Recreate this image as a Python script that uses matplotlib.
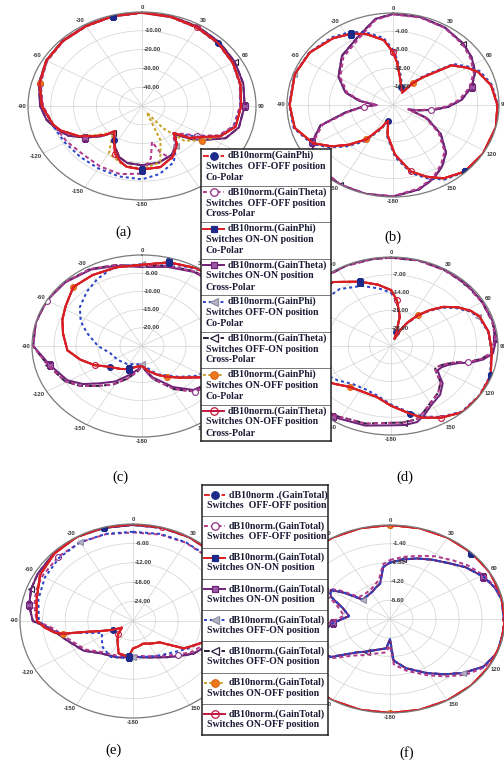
import numpy as np
import matplotlib
matplotlib.use('Agg')
import matplotlib.pyplot as plt

W, H = 504, 762

ANGLE_TICKS = [0, 30, 60, 90, 120, 150, 180, 210, 240, 270, 300, 330]
ANGLE_LABELS = ['0', '30', '60', '90', '120', '150', '-180', '-150', '-120', '-90', '-60', '-30']

# ---------------- panel (a) : GainPhi / GainTheta, -50..0 dB ----------------
A_CO_T = [0, 15, 30, 45, 60, 75, 90, 105, 115, 123, 129, 136, 143, 153, 166, 180, 192, 198, 205, 214, 222, 226, 232, 240, 250, 256, 270, 285, 300, 315, 330, 345, 360]
A_CO_R = [-0.3, -0.9, -1.7, -2.7, -4.0, -5.3, -6.5, -7.5, -12, -19.6, -23, -30, -24.5, -20, -16.5, -16.2, -17, -19, -22, -28, -32, -28, -24, -18, -12, -9.7, -6.1, -3.5, -1.6, -1.0, -0.9, -0.5, -0.3]
A_CR_T = [0, 15, 30, 45, 60, 75, 90, 105, 115, 123, 129, 136, 143, 153, 166, 180, 192, 200, 208, 216, 222, 228, 236, 244, 252, 260, 270, 285, 300, 315, 330, 345, 360]
A_CR_R = [-0.2, -0.6, -1.2, -2.0, -3.0, -4.0, -5.0, -6.0, -9.5, -17, -22, -29, -25, -21, -19, -18.5, -19, -21, -25, -29, -31, -26, -20, -14, -10.5, -7.5, -5.3, -3.2, -1.5, -0.8, -0.7, -0.4, -0.2]
A_DOT_T = [0, 15, 30, 45, 60, 75, 90, 105, 115, 123, 130, 137, 145, 155, 168, 180, 195, 210, 225, 240, 255, 270, 285, 300, 315, 330, 345, 360]
A_DOT_R = [-0.4, -1.0, -1.8, -2.8, -4.0, -5.5, -6.8, -8, -12.5, -20, -26, -29, -24, -17, -13, -11, -11.2, -11.7, -11.7, -11, -9.5, -6.3, -3.7, -1.8, -1.1, -1.0, -0.6, -0.4]
A_SPK_T = [0, 15, 30, 45, 60, 75, 90, 105, 115, 123, 130, 137, 145, 155, 162, 167, 172, 180, 195, 210, 225, 240, 255, 270, 285, 300, 315, 330, 345, 360]
A_SPK_R = [-0.5, -1.1, -2.0, -3.0, -4.2, -5.6, -7, -8.5, -13, -21, -27, -30, -25, -19, -24, -30.5, -22, -14, -12.5, -13, -13.5, -12, -10, -6.6, -3.9, -2.0, -1.2, -1.1, -0.7, -0.5]
A_OL_T = [0, 15, 30, 45, 60, 75, 90, 105, 115, 125, 135, 142, 149, 156, 165, 180, 195, 210, 222, 232, 240, 250, 256, 270, 285, 300, 315, 330, 345, 360]
A_OL_R = [-0.3, -0.9, -1.7, -2.7, -4.0, -5.3, -6.5, -7.5, -12, -18, -24, -35, -46, -30, -19, -16.5, -17.5, -21, -31, -25, -18, -12, -9.7, -6.1, -3.5, -1.6, -1.0, -0.9, -0.5, -0.3]

# ---------------- panel (b) : -20..0 dB ----------------
B_CO_T = [0, 5, 12, 22, 28, 33, 38, 43, 52, 60, 66, 77, 90, 104, 122, 137, 149, 158, 167, 178, 189, 195, 200, 203, 214, 224, 232, 241, 255, 270, 290, 306, 322, 333, 342, 353, 360]
B_CO_R = [-8.5, -10.8, -13.8, -15.8, -16.5, -16.8, -14, -11.8, -6, -3.8, -2.4, -1.0, -0.3, 0, 0, -0.2, -1.4, -3.2, -5.2, -9.2, -13.4, -16.5, -15.8, -14.8, -11, -8, -5.4, -2.8, -0.8, -0.5, -0.3, -0.6, -1.6, -2.6, -3.8, -5.8, -8.5]
B_BL_R = [-8.0, -10.2, -13.2, -15.4, -16.2, -16.6, -13.6, -11.2, -5.5, -3.4, -2.0, -0.8, -0.2, 0, 0, -0.1, -1.1, -2.8, -4.8, -8.7, -13.0, -16.4, -15.5, -14.3, -10.5, -7.5, -5.0, -2.5, -0.6, -0.4, -0.2, -0.5, -1.3, -2.2, -3.4, -5.3, -8.0]
B_CR_T = [0, 15, 30, 45, 55, 65, 75, 85, 92, 98, 104, 108, 114, 125, 136, 145, 154, 165, 180, 195, 210, 222, 232, 242, 252, 260, 266, 270, 278, 287, 301, 318, 337, 350, 360]
B_CR_R = [-0.3, -0.3, -0.6, -1.4, -2.2, -3.2, -5.0, -7.5, -10, -12.8, -15.5, -17, -13.4, -9.5, -6, -4.2, -2.6, -1.2, -0.2, 0, -0.1, -0.6, -1.4, -3, -6, -11.5, -14.5, -17, -14, -11, -8.4, -6, -4, -1.2, -0.3]
B_CR2_R = [-0.2, -0.2, -0.5, -1.2, -1.9, -2.9, -4.6, -7.0, -9.5, -12.3, -15.2, -16.8, -13.0, -9.0, -5.6, -3.8, -2.3, -1.0, -0.1, 0, 0, -0.5, -1.2, -2.7, -5.6, -11.0, -14.2, -16.8, -13.6, -10.6, -8.0, -5.6, -3.6, -1.0, -0.2]

# ---------------- panel (c) : -25..0 dB ----------------
C_CO_T = [0, 15, 30, 45, 60, 75, 90, 105, 123, 135, 146, 156, 168, 180, 192, 205, 218, 232, 244, 255, 266, 281, 292, 302, 316, 330, 345, 360]
C_CO_R = [-2.7, -1.2, -0.3, 0, 0, -0.5, -2, -5, -9.2, -12.7, -14.8, -16.3, -18, -19.5, -19.2, -18, -17, -15.7, -13, -10.5, -8, -6.7, -5.5, -4.5, -2.5, -2.5, -2.6, -2.7]
C_CR_T = [0, 15, 30, 45, 60, 75, 90, 105, 120, 136, 148, 164, 172, 180, 188, 200, 212, 223, 232, 241, 256, 270, 285, 300, 315, 331, 345, 360]
C_CR_R = [-3.3, -2.5, -1.5, -1.0, -0.8, -1.5, -3, -4.5, -6, -8.2, -11.7, -16, -18, -19.8, -18.5, -16.5, -13.5, -11, -8, -5.6, -3.4, -0.3, 0, 0, -0.3, -1, -2.2, -3.3]
C_CR2_R = [-3.0, -2.2, -1.3, -0.8, -0.6, -1.2, -2.6, -4.0, -5.5, -7.6, -11.0, -15.5, -17.8, -19.6, -18.0, -15.5, -12.5, -10, -7.2, -5.0, -3.0, -0.2, 0, 0, -0.2, -0.8, -2.0, -3.0]
C_BL_T = [0, 15, 30, 45, 60, 75, 90, 105, 123, 135, 156, 170, 180, 195, 215, 235, 255, 270, 286, 296, 307, 320, 331, 341, 350, 360]
C_BL_R = [-2.5, -1.5, -0.5, -0.3, -0.5, -1.2, -3, -6, -10, -13, -16.5, -19, -20, -19.8, -19, -18.3, -17.5, -15, -12, -9.5, -7.3, -5.5, -4, -2.8, -2.6, -2.5]

# ---------------- panel (d) : -35..0 dB ----------------
D_CO_T = [0, 6, 14, 18, 22, 26, 30, 36, 42, 48, 55, 62, 68, 80, 93, 110, 124, 138, 150, 160, 167, 180, 193, 205, 220, 232, 245, 260, 275, 290, 305, 323, 338, 350, 360]
D_CO_R = [-13, -16.8, -23, -29.4, -32, -28, -24.5, -20, -16, -12, -8.4, -5.5, -3.8, -2.6, -2, -0.3, 0, 0, -2.4, -5, -7.7, -11.5, -14.4, -14.8, -14, -11, -8, -5.5, -4, -3, -2.5, -3.5, -7.7, -10.5, -13]
D_BL_R = [-14, -17.5, -23.5, -29.6, -32, -28.5, -25, -20.5, -16.5, -12.5, -9, -6, -4.2, -2.8, -2.2, -0.5, -0.2, -0.3, -2.8, -5.5, -8.2, -12, -15, -16, -15.5, -13, -10, -7.5, -6, -5.5, -6, -7, -9.5, -12, -14]
D_CR_T = [0, 15, 30, 45, 60, 74, 85, 95, 100, 104, 107, 112, 117, 122, 127, 131, 140, 150, 158, 164, 172, 180, 195, 214, 230, 245, 260, 275, 290, 305, 320, 335, 350, 360]
D_CR_R = [0, 0, -0.2, -0.3, -0.4, -0.3, -0.4, -1.5, -4.4, -8, -12, -15, -16.5, -17, -15, -12.6, -10, -8.4, -5.8, -3.9, -3.6, -3.8, -2.6, -1.3, -0.8, -0.5, -0.3, 0, 0, 0, 0, 0, 0, 0]
D_CR2_R = [-0.3, -0.2, -0.4, -0.5, -0.6, -0.5, -0.8, -2.2, -5.2, -9, -13, -16, -17.5, -18, -16, -13.5, -11, -9.2, -6.8, -5, -4.6, -4.8, -3.4, -2.0, -1.3, -0.9, -0.6, -0.3, -0.2, -0.2, -0.2, -0.2, -0.3, -0.3]

# ---------------- panel (e) : GainTotal, -30..0 dB ----------------
E_CO_T = [0, 15, 30, 45, 60, 75, 90, 100, 111, 122, 133, 145, 159, 170, 180, 186, 201, 215, 225, 235, 243, 250, 253, 256, 258, 260, 265, 270, 284, 300, 315, 330, 345, 360]
E_CO_R = [0, 0, 0, -0.1, -0.3, -0.8, -2.5, -6, -10.8, -14, -20.3, -21.5, -22.5, -22, -21.5, -18.9, -19.3, -22.8, -24.5, -26.4, -24, -21, -19, -15.6, -11, -9, -6.5, -4.5, -3.6, -1.5, -0.5, 0, 0, 0]
E_BL_T = [0, 15, 30, 45, 60, 75, 90, 105, 120, 135, 150, 165, 180, 190, 208, 225, 236, 246, 252, 256, 258, 262, 270, 285, 300, 315, 330, 345, 360]
E_BL_R = [-2.4, -2.1, -1.9, -1.8, -2, -3, -5, -9, -13, -16, -17.5, -18.5, -18.9, -18.5, -17.4, -18.6, -20, -21, -18, -15, -11, -8, -5, -4, -3, -2.3, -1.9, -2.1, -2.4]
E_CR_T = [0, 15, 30, 45, 60, 75, 90, 105, 122, 131, 141, 160, 180, 200, 221, 235, 251, 264, 270, 280, 290, 300, 315, 330, 345, 360]
E_CR_R = [-0.3, -0.2, -0.1, -0.2, -0.5, -1.5, -3.5, -7, -11, -13.5, -15.6, -18, -18.9, -18, -16.8, -14, -11.5, -7.9, -3.4, -2, -1.2, -0.8, -0.3, 0, -0.2, -0.3]
E_CR2_R = [-2.6, -2.3, -2.0, -2.0, -2.3, -3.2, -4.8, -8, -11.8, -14.2, -16.2, -18.4, -19.3, -18.5, -17.3, -14.6, -12.2, -8.6, -4.4, -3.4, -2.6, -2.2, -1.9, -1.9, -2.2, -2.6]

# ---------------- panel (f) : -7..0 dB ----------------
F_RING_T = [0, 15, 30, 45, 60, 75, 90, 105, 120, 135, 150, 165, 180, 195, 210, 225, 240, 255, 270, 285, 300, 315, 330, 345, 360]
F_RING_R = [0, 0, 0, 0, 0, 0, 0, 0, 0, 0, 0, 0, 0, 0, 0, 0, 0, 0, 0, 0, 0, 0, 0, 0, 0]
F_IN_T = [0, 10, 20, 30, 41, 50, 61, 70, 78, 95, 111, 122, 132, 141, 151, 165, 176, 180, 186, 198, 210, 219, 232, 245, 255, 265, 275, 286, 295, 301, 305, 311, 320, 332, 340, 347, 354, 360]
F_IN_R = [-2.8, -2.5, -2.2, -1.9, -1.5, -1.0, -0.5, -0.2, -0.05, 0, 0, -0.3, -1.0, -1.7, -2.4, -3.2, -3.9, -5.5, -4.8, -4.6, -4.2, -3.8, -2.4, -2.0, -2.6, -3.5, -4.5, -4.0, -3.0, -2.8, -3.6, -4.8, -4.8, -4.7, -4.5, -4.3, -3.1, -2.8]
F_IN2_R = [-2.6, -2.3, -2.0, -1.6, -1.2, -0.8, -0.4, -0.15, 0, 0, 0, -0.2, -0.8, -1.5, -2.2, -3.0, -3.6, -5.0, -4.5, -4.3, -3.9, -3.5, -2.2, -1.8, -2.3, -3.2, -4.2, -3.7, -2.8, -2.6, -3.3, -4.5, -4.6, -4.5, -4.3, -4.0, -2.9, -2.6]

RINGS = {
    'a': [-40, -30, -20, -10],
    'b': [-16, -12, -8, -4],
    'c': [-20, -15, -10, -5],
    'd': [-28, -21, -14, -7],
    'e': [-24, -18, -12, -6],
    'f': [-5.6, -4.2, -2.8, -1.4],
}
RMIN = {'a': -50, 'b': -20, 'c': -25, 'd': -35, 'e': -30, 'f': -7}

# curves for the 8 legend entries, in legend order
CURVES = {
    'a': [(A_CO_T, A_CO_R), (A_SPK_T, A_SPK_R), (A_CO_T, A_CO_R), (A_CR_T, A_CR_R),
          (A_DOT_T, A_DOT_R), (A_CR_T, A_CR_R), (A_OL_T, A_OL_R), (A_CO_T, A_CO_R)],
    'b': [(B_CO_T, B_CO_R), (B_CR_T, B_CR_R), (B_CO_T, B_CO_R), (B_CR_T, B_CR2_R),
          (B_CO_T, B_BL_R), (B_CR_T, B_CR2_R), (B_CO_T, B_CO_R), (B_CO_T, B_CO_R)],
    'c': [(C_CO_T, C_CO_R), (C_CR_T, C_CR2_R), (C_CO_T, C_CO_R), (C_CR_T, C_CR_R),
          (C_BL_T, C_BL_R), (C_CR_T, C_CR2_R), (C_CO_T, C_CO_R), (C_CO_T, C_CO_R)],
    'd': [(D_CO_T, D_CO_R), (D_CR_T, D_CR2_R), (D_CO_T, D_CO_R), (D_CR_T, D_CR_R),
          (D_CO_T, D_BL_R), (D_CR_T, D_CR2_R), (D_CO_T, D_CO_R), (D_CO_T, D_CO_R)],
    'e': [(E_CO_T, E_CO_R), (E_CR_T, E_CR2_R), (E_CO_T, E_CO_R), (E_CR_T, E_CR_R),
          (E_BL_T, E_BL_R), (E_CR_T, E_CR_R), (E_CO_T, E_CO_R), (E_CO_T, E_CO_R)],
    'f': [(F_RING_T, F_RING_R), (F_IN_T, F_IN2_R), (F_RING_T, F_RING_R), (F_IN_T, F_IN_R),
          (F_IN_T, F_IN_R), (F_IN_T, F_IN_R), (F_RING_T, F_RING_R), (F_RING_T, F_RING_R)],
}

STYLES = [
    dict(color='#e3262b', ls=(0, (3, 1.5)), marker='o', mfc='#1d2a8a', mec='#1d2a8a', ms=4.2),
    dict(color='#b23a8c', ls=(0, (2, 1.5)), marker='o', mfc='white', mec='#8d2f86', ms=4.2),
    dict(color='#d91e24', ls='-', marker='s', mfc='#1d2a8a', mec='#1d2a8a', ms=3.8),
    dict(color='#6e2377', ls='-', marker='s', mfc='#9b5aa5', mec='#6e2377', ms=3.8),
    dict(color='#2b45c8', ls=(0, (1.5, 1.5)), marker='<', mfc='#b5b5c5', mec='#9090a8', ms=4.2),
    dict(color='#2a1f3d', ls=(0, (3, 1.5)), marker='<', mfc='white', mec='#2a1f3d', ms=4.2),
    dict(color='#c9a227', ls=(0, (1.5, 1.2)), marker='o', mfc='#f07a1a', mec='#d9661a', ms=4.2),
    dict(color='#c2183c', ls='-', marker='o', mfc='none', mec='#c2183c', ms=4.2),
]
# index of the first marked point, per legend entry
MARK_START = [3, 9, 15, 6, 12, 20, 24, 18]
DRAW_ORDER = [5, 3, 1, 4, 6, 7, 0, 2]

LEGEND_TOP = [
    ('dB10norm(GainPhi)', 'Switches  OFF-OFF position', 'Co-Polar'),
    ('dB10norm.(GainTheta)', 'Switches  OFF-OFF position', 'Cross-Polar'),
    ('dB10norm.(GainPhi)', 'Switches ON-ON position', 'Co-Polar'),
    ('dB10norm.(GainTheta)', 'Switches ON-ON position', 'Cross-Polar'),
    ('dB10norm.(GainPhi)', 'Switches OFF-ON position', 'Co-Polar'),
    ('dB10norm.(GainTheta)', 'Switches OFF-ON position', 'Cross-Polar'),
    ('dB10norm.(GainPhi)', 'Switches ON-OFF position', 'Co-Polar'),
    ('dB10norm.(GainTheta)', 'Switches ON-OFF position', 'Cross-Polar'),
]
LEGEND_BOTTOM = [
    ('dB10norm .(GainTotal)', 'Switches  OFF-OFF position'),
    ('dB10norm.(GainTotal)', 'Switches  OFF-OFF position'),
    ('dB10norm.(GainTotal)', 'Switches ON-ON position'),
    ('dB10norm.(GainTotal)', 'Switches ON-ON position'),
    ('dB10norm.(GainTotal)', 'Switches OFF-ON position'),
    ('dB10norm.(GainTotal)', 'Switches OFF-ON position'),
    ('dB10norm.(GainTotal)', 'Switches ON-OFF position'),
    ('dB10norm.(GainTotal)', 'Switches ON-OFF position'),
]

# panel boxes in pixels (x0, y0, x1, y1) and caption positions
BOXES = {
    'a': (28, 12, 256, 200), 'b': (287, 13, 499, 197),
    'c': (32, 255, 252, 437), 'd': (284, 257, 498, 435),
    'e': (20, 524, 246, 718), 'f': (275, 525, 505, 713),
}
CAPTIONS = {'a': (123, 232), 'b': (393, 237), 'c': (120, 477),
            'd': (405, 477), 'e': (113, 750), 'f': (407, 753)}

TICK_FONT = dict(family='Liberation Sans', weight='bold', size=4.3, color='#3a3a3a')
LEG_FONT = dict(family='Liberation Serif', weight='bold', size=7.1, color='#1b1b35')


def px_box(x0, y0, x1, y1):
    return [x0 / W, 1 - y1 / H, (x1 - x0) / W, (y1 - y0) / H]


fig = plt.figure(figsize=(W / 100, H / 100), dpi=100)
fig.patch.set_facecolor('white')


def draw_panel(key):
    ax = fig.add_axes(px_box(*BOXES[key]), projection='polar')
    ax.set_aspect('auto')
    ax.set_theta_zero_location('N')
    ax.set_theta_direction(-1)
    ax.set_ylim(RMIN[key], 0)
    ax.set_yticks(RINGS[key])
    ax.set_yticklabels([])
    ax.set_xticks(np.deg2rad(ANGLE_TICKS))
    ax.set_xticklabels([])
    ax.set_xticks(np.deg2rad(np.arange(0, 360, 5)), minor=True)
    ax.tick_params(axis='x', which='major', length=3.5, color='#555555', width=0.7)
    ax.tick_params(axis='x', which='minor', length=2.8, color='#555555', width=0.6)
    ax.grid(True, color='#d2d2d2', lw=0.5)
    ax.spines['polar'].set_color('#7a7a7a')
    ax.spines['polar'].set_linewidth(0.9)

    # angle labels sit on the outer ring, pushed outward
    for a, lab in zip(ANGLE_TICKS, ANGLE_LABELS):
        s, c = np.sin(np.deg2rad(a)), np.cos(np.deg2rad(a))
        ha = 'left' if s > 0.3 else ('right' if s < -0.3 else 'center')
        va = 'bottom' if c > 0.3 else ('top' if c < -0.3 else 'center')
        ax.annotate(lab, xy=(np.deg2rad(a), 0), xytext=(1.2 * s, 1.2 * c),
                    textcoords='offset points', ha=ha, va=va, annotation_clip=False,
                    **TICK_FONT)

    for v in RINGS[key]:
        ax.text(np.deg2rad(1.5), v, f'{v:.2f}', ha='left', va='center', **TICK_FONT)

    for i in DRAW_ORDER:
        th, r = CURVES[key][i]
        st = STYLES[i]
        step = max(len(th) // 2, 1)
        ax.plot(np.deg2rad(th), r, color=st['color'], ls=st['ls'], lw=1.45,
                marker=st['marker'], ms=st['ms'], mfc=st['mfc'], mec=st['mec'],
                mew=0.8, markevery=(MARK_START[i] % step, step))
    fig.text(CAPTIONS[key][0] / W, 1 - CAPTIONS[key][1] / H, f'({key})',
             ha='center', va='center', family='Liberation Serif', size=10.5)


def draw_legend(box, texts, first_off, line_gap):
    x0, y0, x1, y1 = box
    lax = fig.add_axes(px_box(*box))
    lax.set_xlim(x0, x1)
    lax.set_ylim(y1, y0)
    lax.set_xticks([])
    lax.set_yticks([])
    lax.set_facecolor('white')
    for sp in lax.spines.values():
        sp.set_linewidth(1.1)
        sp.set_color('#222222')
    h = (y1 - y0) / len(texts)
    for i, lines in enumerate(texts):
        top = y0 + i * h
        st = STYLES[i]
        yl = top + first_off
        lax.plot([x0 + 2, x0 + 23], [yl, yl], color=st['color'], ls=st['ls'], lw=1.4)
        lax.plot([x0 + 13], [yl], marker=st['marker'], ms=st['ms'] + 1.2, mfc=st['mfc'],
                 mec=st['mec'], mew=0.9, ls='none')
        lax.text(x0 + 27, yl, lines[0], ha='left', va='center', **LEG_FONT)
        for j, t in enumerate(lines[1:]):
            lax.text(x0 + 5, yl + (j + 1) * line_gap, t, ha='left', va='center', **LEG_FONT)
        if i:
            lax.axhline(top, color='#777777', lw=0.7)


for k in ['a', 'b', 'c', 'd', 'e', 'f']:
    draw_panel(k)

draw_legend((201, 149, 331, 441), LEGEND_TOP, 6.5, 11)
draw_legend((202, 485, 328, 735), LEGEND_BOTTOM, 10, 10.5)

fig.savefig('out.png', dpi=100, facecolor='white')
